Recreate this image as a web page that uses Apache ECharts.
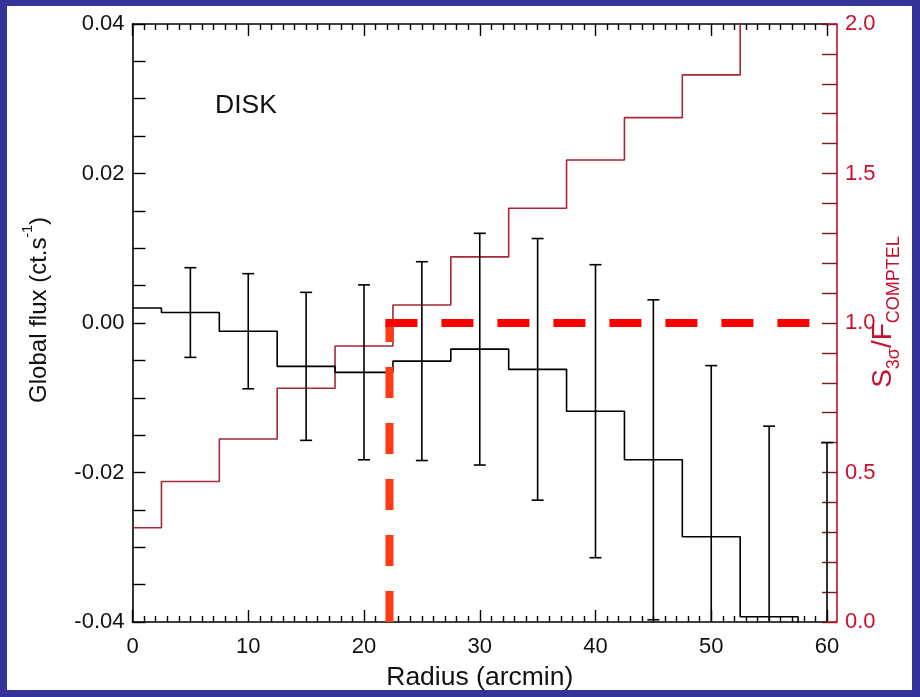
<!DOCTYPE html>
<html>
<head>
<meta charset="utf-8">
<script src="https://cdn.jsdelivr.net/npm/echarts@6/dist/echarts.min.js"></script>
<style>
  html, body { margin: 0; padding: 0; background: #333399; width: 920px; height: 697px; overflow: hidden; }
  #paper { position: absolute; left: 7px; top: 6px; width: 905px; height: 684px; background: #ffffff; }
  #chart { position: absolute; left: 0; top: 0; width: 920px; height: 697px; }
</style>
</head>
<body>
<div id="paper"></div>
<div id="chart"></div>
<script>
// ---- data ----
const radius = [0, 5, 10, 15, 20, 25, 30, 35, 40, 45, 50, 55, 60];
const flux = [0.0020, 0.0014, -0.0011, -0.0058, -0.0066, -0.0051, -0.0035, -0.0062, -0.0118, -0.0183, -0.0286, -0.0393, -0.0430];
const fluxErr = [null, 0.0060, 0.0077, 0.0099, 0.0117, 0.0133, 0.0155, 0.0175, 0.0196, 0.0214, 0.0229, 0.0255, 0.0270];
const ratio = [0.315, 0.470, 0.612, 0.782, 0.923, 1.060, 1.221, 1.384, 1.545, 1.687, 1.830, 2.100, 2.250];
const thresholdRadius = 22.2;
const thresholdRatio = 1.0;
const xTicks = [0, 10, 20, 30, 40, 50, 60];
const fluxTicks = [-0.04, -0.02, 0.00, 0.02, 0.04];
const ratioTicks = [0.0, 0.5, 1.0, 1.5, 2.0];
const panelLabel = 'DISK';

// ---- layout ----
const G = { left: 132.5, right: 827, top: 24, bottom: 622 };
const FMIN = fluxTicks[0], FMAX = fluxTicks[fluxTicks.length - 1];
const RMIN = ratioTicks[0], RMAX = ratioTicks[ratioTicks.length - 1];
const FONT = '"Liberation Sans", Arial, sans-serif';
const RED_AXIS = '#b8122e';
const RED_TEXT = '#c8102e';

const chart = echarts.init(document.getElementById('chart'), null, { renderer: 'canvas' });

const stepData = radius.map((r, i) => [r, flux[i]]);
const ratioData = radius.map((r, i) => [r, ratio[i]]);
const errData = radius.map((r, i) => [r, flux[i], fluxErr[i]]).filter(d => d[2] != null);

function errRender(params, api) {
  const x = api.value(0), y = api.value(1), e = api.value(2);
  const hi = y + e, lo = y - e;
  const hiC = Math.min(hi, FMAX), loC = Math.max(lo, FMIN);
  const pHi = api.coord([x, hiC]);
  const pLo = api.coord([x, loC]);
  const style = { stroke: '#000', lineWidth: 1.6 };
  const children = [{ type: 'line', shape: { x1: pHi[0], y1: pHi[1], x2: pLo[0], y2: pLo[1] }, style }];
  const hw = 6;
  if (hi <= FMAX) children.push({ type: 'line', shape: { x1: pHi[0] - hw, y1: pHi[1], x2: pHi[0] + hw, y2: pHi[1] }, style });
  if (lo >= FMIN) children.push({ type: 'line', shape: { x1: pLo[0] - hw, y1: pLo[1], x2: pLo[0] + hw, y2: pLo[1] }, style });
  return { type: 'group', children };
}

const option = {
  animation: false,
  backgroundColor: 'transparent',
  textStyle: { fontFamily: FONT },
  grid: {
    left: G.left, top: G.top, width: G.right - G.left, height: G.bottom - G.top,
    containLabel: false, outerBoundsMode: 'none'
  },
  xAxis: [
    {
      type: 'value', position: 'bottom', min: xTicks[0], max: xTicks[xTicks.length - 1], interval: 10,
      name: 'Radius (arcmin)', nameLocation: 'middle', nameGap: 42,
      nameTextStyle: { fontFamily: FONT, fontSize: 26.5, color: '#111' },
      axisLine: { show: true, onZero: false, lineStyle: { color: '#000', width: 1.6 } },
      axisTick: { show: true, inside: true, length: 12, lineStyle: { color: '#000', width: 1.4 } },
      minorTick: { show: true, splitNumber: 10, length: 6, lineStyle: { color: '#000', width: 1.4 } },
      axisLabel: { show: true, margin: 14, fontFamily: FONT, fontSize: 22, color: '#111', formatter: v => String(v) },
      splitLine: { show: false }
    },
    {
      type: 'value', position: 'top', min: xTicks[0], max: xTicks[xTicks.length - 1], interval: 10,
      axisLine: { show: true, onZero: false, lineStyle: { color: '#000', width: 1.6 } },
      axisTick: { show: true, inside: true, length: 12, lineStyle: { color: '#000', width: 1.4 } },
      minorTick: { show: true, splitNumber: 10, length: 6, lineStyle: { color: '#000', width: 1.4 } },
      axisLabel: { show: false },
      splitLine: { show: false }
    }
  ],
  yAxis: [
    {
      type: 'value', position: 'left', min: FMIN, max: FMAX, interval: 0.02,
      name: '{a|Global flux (ct.s}{sup|-1}{a|)}', nameLocation: 'middle', nameGap: 81, nameRotate: 90,
      nameTextStyle: {
        color: '#111', padding: [0, 0, 0, 26],
        rich: {
          a: { fontFamily: FONT, fontSize: 24, color: '#111', lineHeight: 30, verticalAlign: 'bottom' },
          sup: { fontFamily: FONT, fontSize: 14, color: '#111', lineHeight: 30, verticalAlign: 'top' }
        }
      },
      axisLine: { show: true, onZero: false, lineStyle: { color: '#000', width: 1.6 } },
      axisTick: { show: true, inside: true, length: 13, lineStyle: { color: '#000', width: 1.4 } },
      minorTick: { show: true, splitNumber: 4, length: 13, lineStyle: { color: '#000', width: 1.4 } },
      axisLabel: {
        show: true, margin: 8, fontFamily: FONT, fontSize: 22, color: '#111',
        formatter: v => (Math.abs(v) < 1e-9 ? 0 : v).toFixed(2)
      },
      splitLine: { show: false }
    },
    {
      type: 'value', position: 'right', offset: 10, min: RMIN, max: RMAX, interval: 0.5,
      name: '{s|S}{sub|3σ}{s|/F}{sub|COMPTEL}', nameLocation: 'middle', nameGap: 32, nameRotate: 90,
      nameMoveOverlap: false,
      nameTextStyle: {
        color: RED_TEXT, padding: [0, 0, 0, 22],
        rich: {
          s: { fontFamily: FONT, fontSize: 28, color: RED_TEXT, lineHeight: 34, verticalAlign: 'top' },
          sub: { fontFamily: FONT, fontSize: 18, color: RED_TEXT, lineHeight: 34, verticalAlign: 'bottom' }
        }
      },
      axisLine: { show: true, onZero: false, lineStyle: { color: RED_AXIS, width: 1.6 } },
      axisTick: { show: true, inside: true, length: 15, lineStyle: { color: '#7a1822', width: 1.4 } },
      minorTick: { show: true, splitNumber: 5, length: 15, lineStyle: { color: '#7a1822', width: 1.4 } },
      axisLabel: {
        show: true, margin: 8, fontFamily: FONT, fontSize: 22, color: RED_TEXT,
        formatter: v => v.toFixed(1)
      },
      splitLine: { show: false }
    }
  ],
  series: [
    {
      name: 'ratio', type: 'line', step: 'middle', xAxisIndex: 0, yAxisIndex: 1,
      data: ratioData, symbol: 'none', clip: true,
      lineStyle: { color: '#a52838', width: 1.6 }, z: 3
    },
    {
      name: 'flux', type: 'line', step: 'middle', xAxisIndex: 0, yAxisIndex: 0,
      data: stepData, symbol: 'none', clip: true,
      lineStyle: { color: '#000', width: 1.6 }, z: 4
    },
    {
      name: 'fluxErr', type: 'custom', xAxisIndex: 0, yAxisIndex: 0,
      data: errData, renderItem: errRender, clip: false, z: 5
    },
    {
      name: 'thresholdV', type: 'line', xAxisIndex: 0, yAxisIndex: 1,
      data: [[thresholdRadius, RMIN], [thresholdRadius, thresholdRatio]], symbol: 'none', clip: true,
      lineStyle: { color: '#ff3a14', width: 8, type: [31, 25], cap: 'butt' }, z: 6
    },
    {
      name: 'thresholdH', type: 'line', xAxisIndex: 0, yAxisIndex: 1,
      data: [[thresholdRadius - 0.35, thresholdRatio], [xTicks[xTicks.length - 1], thresholdRatio]], symbol: 'none', clip: true,
      lineStyle: { color: '#ff0000', width: 8, type: [32, 24], cap: 'butt' }, z: 6
    }
  ],
  graphic: [
    { type: 'line', shape: { x1: G.right, y1: G.top, x2: G.right + 10, y2: G.top }, style: { stroke: RED_AXIS, lineWidth: 1.6 }, z: 10 },
    { type: 'line', shape: { x1: G.right, y1: G.bottom, x2: G.right + 10, y2: G.bottom }, style: { stroke: RED_AXIS, lineWidth: 1.6 }, z: 10 },
    { type: 'text', left: 215, top: 92, style: { text: panelLabel, fontFamily: FONT, fontSize: 26.5, fill: '#111' }, z: 10 }
  ]
};

chart.setOption(option);
</script>
</body>
</html>
